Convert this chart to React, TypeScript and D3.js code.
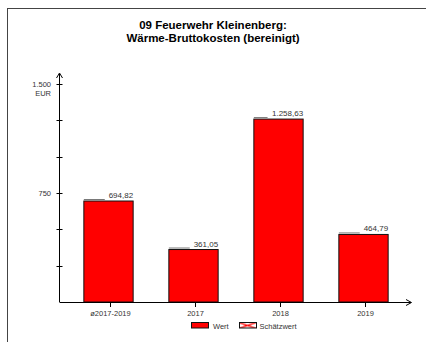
import * as d3 from "d3";
import * as React from "react";

const categories = ["ø2017-2019", "2017", "2018", "2019"];
const values = [694.82, 361.05, 1258.63, 464.79];
const valueLabels = ["694,82", "361,05", "1.258,63", "464,79"];
const yTicks = [250, 500, 750, 1000, 1250, 1500];
const yTickLabels: Record<number, string> = { 750: "750", 1500: "1.500" };
const titleLines = ["09 Feuerwehr Kleinenberg:", "Wärme-Bruttokosten (bereinigt)"];
const legendItems = ["Wert", "Schätzwert"];

const W = 426;
const H = 342;
const font = "Arial, 'Liberation Sans', sans-serif";

// rough width of Arial text, good enough for the label underline
function textWidth(s: string, size: number): number {
    let w = 0;
    for (const c of s) w += (c === "." || c === ",") ? 0.3 : 0.6;
    return w * size;
}

export default function App(): JSX.Element {
    const x0 = 59.5;
    const y0 = 302;

    const x = d3.scaleBand<string>()
        .domain(categories)
        .range([66, 406])
        .paddingInner(0.42)
        .paddingOuter(0.21);

    const y = d3.scaleLinear().domain([0, 1500]).range([y0, 84]);

    return (
        <svg width={W} height={H} style={{ position: "fixed", left: 0, top: 0, background: "#fff" }}
            fontFamily={font}>
            <rect x={7.5} y={8.5} width={600} height={600} fill="none" stroke="#444" strokeWidth={1} />

            {titleLines.map((t, i) => (
                <text key={t} x={213} y={29 + i * 13} textAnchor="middle" fontSize={11.5}
                    fontWeight="bold" fill="#000">{t}</text>
            ))}

            {/* bars */}
            {values.map((v, i) => {
                const bx = x(categories[i])!;
                const bw = x.bandwidth();
                const top = y(v);
                const lbl = valueLabels[i];
                const lw = textWidth(lbl, 8);
                return (
                    <g key={categories[i]}>
                        <rect x={bx} y={top} width={bw} height={y0 - top} fill="#ff0000"
                            stroke="#111" strokeWidth={1} />
                        <line x1={bx} x2={bx + bw - lw - 2} y1={top - 1.5} y2={top - 1.5}
                            stroke="#777" strokeWidth={1} />
                        <text x={bx + bw} y={top - 3} textAnchor="end" fontSize={8} fill="#333">{lbl}</text>
                    </g>
                );
            })}

            {/* y axis */}
            <line x1={x0} x2={x0} y1={y0} y2={74} stroke="#000" strokeWidth={1} />
            <path d={`M${x0 - 3},${78} L${x0},${73} L${x0 + 3},${78}`} fill="none" stroke="#000" />
            {yTicks.map(t => (
                <g key={t}>
                    <line x1={x0 - 3} x2={x0 + 3} y1={Math.round(y(t)) + 0.5} y2={Math.round(y(t)) + 0.5}
                        stroke="#000" />
                    {yTickLabels[t] && (
                        <text x={51} y={y(t) + 3} textAnchor="end" fontSize={7.5} fill="#333">
                            {yTickLabels[t]}
                        </text>
                    )}
                </g>
            ))}
            <text x={51} y={96} textAnchor="end" fontSize={7.5} fill="#333">EUR</text>

            {/* x axis */}
            <line x1={x0} x2={411} y1={y0 + 0.5} y2={y0 + 0.5} stroke="#000" />
            <path d={`M${406},${y0 - 2.5} L${411.5},${y0 + 0.5} L${406},${y0 + 3.5}`} fill="none" stroke="#000" />
            {categories.map(c => {
                const cx = Math.round(x(c)! + x.bandwidth() / 2) + 1.5;
                return (
                    <g key={c}>
                        <line x1={cx} x2={cx} y1={y0} y2={y0 + 5} stroke="#000" />
                        <text x={cx} y={316} textAnchor="middle" fontSize={7.5} fill="#333">{c}</text>
                    </g>
                );
            })}

            {/* legend */}
            <defs>
                <pattern id="cross" width={17} height={6} patternUnits="userSpaceOnUse" x={239} y={322.5}>
                    <rect width={17} height={6} fill="#fff" />
                    <path d="M0,0 L17,6 M0,6 L17,0" stroke="#ff0000" strokeWidth={1.2} />
                </pattern>
            </defs>
            <rect x={191.5} y={322.5} width={17} height={5.5} fill="#ff0000" stroke="#111" />
            <text x={213} y={329} fontSize={7.5} fill="#333">{legendItems[0]}</text>
            <rect x={239.5} y={322.5} width={17} height={5.5} fill="url(#cross)" stroke="#111" />
            <text x={259.5} y={329} fontSize={7.5} fill="#333">{legendItems[1]}</text>
        </svg>
    );
}
